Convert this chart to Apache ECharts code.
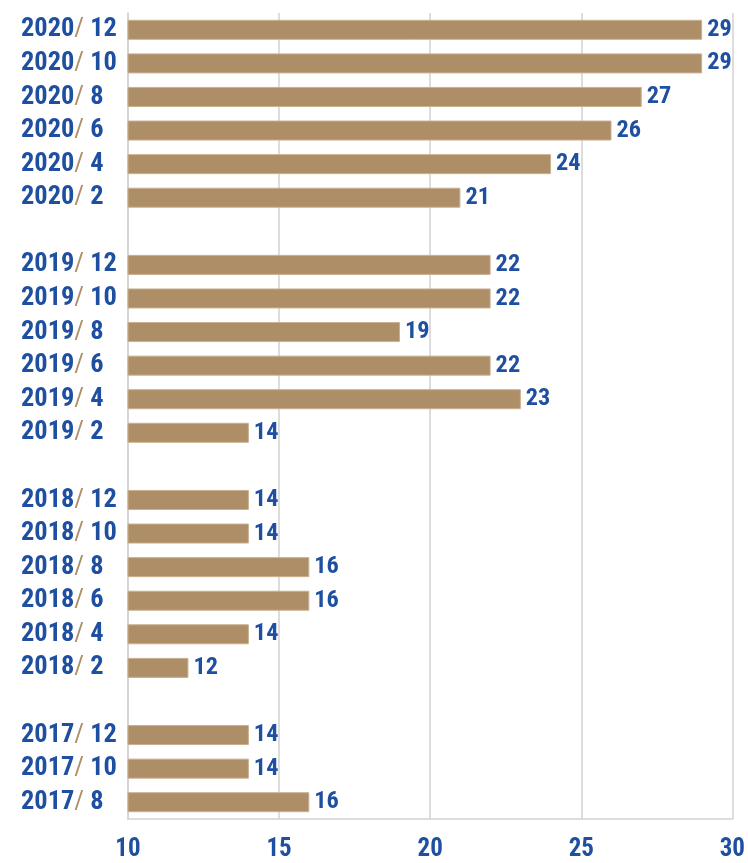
<!DOCTYPE html>
<html>
<head>
<meta charset="utf-8">
<script src="https://cdn.jsdelivr.net/npm/echarts@6/dist/echarts.min.js"></script>
<style>
  html, body { margin: 0; padding: 0; background: #ffffff; }
  #chart { width: 748px; height: 863px; }
</style>
</head>
<body>
<div id="chart"></div>
<script>
// Monthly readings, newest first; blank entries separate the years.
const categories = [
  '2020/12', '2020/10', '2020/8', '2020/6', '2020/4', '2020/2',
  '',
  '2019/12', '2019/10', '2019/8', '2019/6', '2019/4', '2019/2',
  ' ',
  '2018/12', '2018/10', '2018/8', '2018/6', '2018/4', '2018/2',
  '  ',
  '2017/12', '2017/10', '2017/8'
];
const values = [
  29, 29, 27, 26, 24, 21,
  null,
  22, 22, 19, 22, 23, 14,
  null,
  14, 14, 16, 16, 14, 12,
  null,
  14, 14, 16
];
const xTicks = [10, 15, 20, 25, 30];

const BLUE = '#1f4fa0';
const TAN = '#ad8e67';
const GRID = '#d2d2d2';

// Pick the most narrow-looking bold face available: compare digit width to
// digit height and keep the candidate closest to a tall condensed style.
function pickCondensedFont() {
  const ctx = document.createElement('canvas').getContext('2d');
  const candidates = [
    ['normal', "'Roboto Condensed'"],
    ['normal', "'Noto Sans Condensed'"],
    ['condensed', "'Noto Sans'"],
    ['normal', "'Noto Sans SemiCondensed'"],
    ['semi-condensed', "'Noto Sans'"],
    ['normal', "'Liberation Sans Narrow'"],
    ['normal', "'Open Sans Condensed'"],
    ['condensed', "'Open Sans'"],
    ['normal', "'DejaVu Sans Condensed'"],
    ['normal', "'Roboto'"]
  ];
  const target = 0.66;
  let best = { style: 'normal', family: "'DejaVu Sans Condensed', sans-serif", capRatio: 0.73, score: Infinity };
  for (const [style, family] of candidates) {
    const fam = family + ", 'DejaVu Sans'";
    ctx.font = '10px serif';
    ctx.font = (style === 'normal' ? '' : style + ' ') + 'bold 100px ' + fam;
    if (ctx.font.indexOf('100px') < 0) continue;
    const m = ctx.measureText('0');
    const h = m.actualBoundingBoxAscent + m.actualBoundingBoxDescent;
    if (!h) continue;
    const ratio = m.width / h;
    const score = Math.abs(ratio - target);
    if (score < best.score) {
      best = { style: style, family: fam, capRatio: h / 100, score: score };
    }
  }
  return best;
}

const face = pickCondensedFont();
// font size that gives a requested digit height in pixels
const sizeFor = capPx => Math.round(capPx / face.capRatio * 10) / 10;

const textBase = {
  fontFamily: face.family,
  fontStyle: face.style,
  fontWeight: 'bold',
  color: BLUE
};

const chart = echarts.init(document.getElementById('chart'), null, { renderer: 'canvas' });

chart.setOption({
  backgroundColor: '#ffffff',
  animation: false,
  grid: { left: 128, right: 13, top: 13, bottom: 44, containLabel: false },
  xAxis: {
    type: 'value',
    min: xTicks[0],
    max: xTicks[xTicks.length - 1],
    interval: 5,
    axisLine: { show: true, lineStyle: { color: GRID, width: 1.5 } },
    axisTick: { show: false },
    splitLine: { show: true, lineStyle: { color: GRID, width: 1.5 } },
    axisLabel: Object.assign({}, textBase, {
      margin: 18,
      fontSize: sizeFor(18.5),
      formatter: v => String(v)
    })
  },
  yAxis: {
    type: 'category',
    inverse: true,
    data: categories,
    axisLine: { show: true, lineStyle: { color: GRID, width: 1.5 } },
    axisTick: { show: false },
    splitLine: { show: false },
    axisLabel: {
      interval: 0,
      align: 'left',
      margin: 107,
      formatter: function (name) {
        if (!name.trim()) return '';
        const parts = name.split('/');
        return '{y|' + parts[0] + '}{s|/}{m| ' + parts[1] + '}';
      },
      rich: {
        y: Object.assign({}, textBase, { fontSize: sizeFor(19.5) }),
        s: Object.assign({}, textBase, { fontWeight: 'normal', color: TAN, fontSize: sizeFor(19.5) }),
        m: Object.assign({}, textBase, { fontSize: sizeFor(19.5) })
      }
    }
  },
  series: [{
    type: 'bar',
    data: values,
    barWidth: 20,
    itemStyle: { color: TAN, borderColor: '#c8b08f', borderWidth: 1 },
    label: Object.assign({}, textBase, {
      show: true,
      position: 'right',
      distance: 5,
      fontSize: sizeFor(18),
      formatter: p => (p.value == null ? '' : String(p.value))
    })
  }]
});
</script>
</body>
</html>
